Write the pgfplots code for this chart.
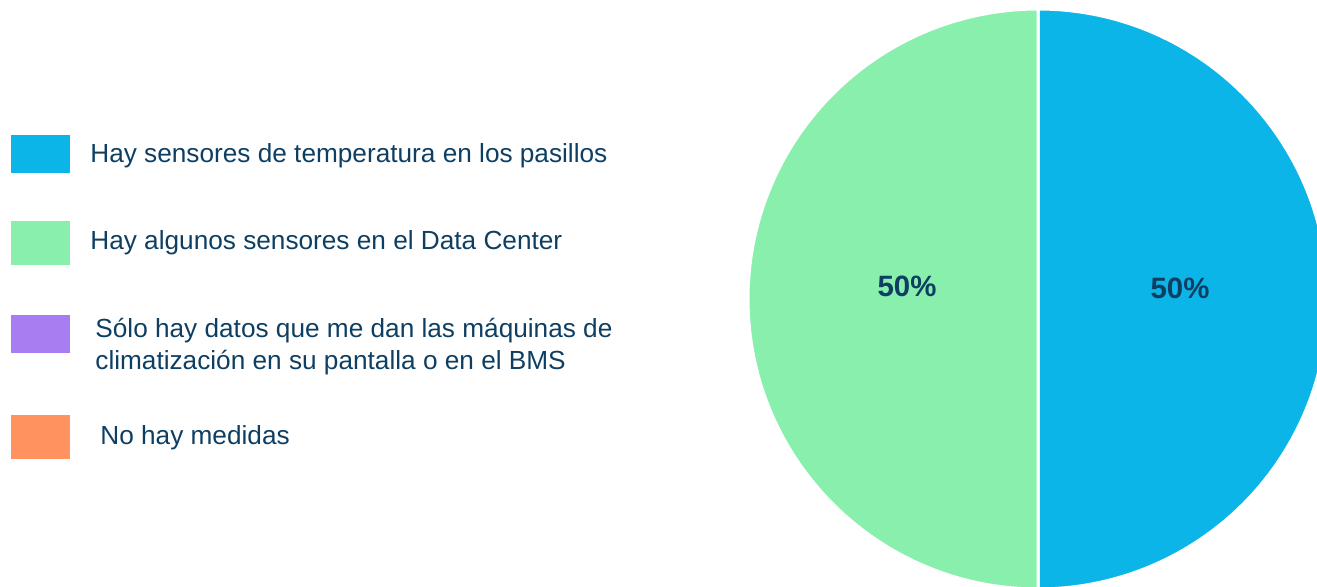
\documentclass[border=0pt]{standalone}
\usepackage{pgfplots}
\pgfplotsset{compat=1.18}
\usepackage{pgfplotstable}
\usepackage{fontspec}
\setmainfont{Liberation Sans}
\definecolor{cBlue}{HTML}{0BB5E7}
\definecolor{cGreen}{HTML}{88EFAC}
\definecolor{cPurple}{HTML}{A97DF2}
\definecolor{cOrange}{HTML}{FF925F}
\definecolor{cText}{HTML}{0E3F63}

\pgfplotstableread{
value
50
50
0
0
}\piedata

\begin{document}
\begin{tikzpicture}
\begin{axis}[scale only axis, width=658.5pt, height=293.5pt,
  xmin=0, xmax=1317, ymin=0, ymax=587, y dir=reverse, hide axis, clip=true]
\pgfplotstablegetelem{0}{value}\of\piedata \let\va\pgfplotsretval
\pgfplotstablegetelem{1}{value}\of\piedata \let\vb\pgfplotsretval
\pgfmathsetmacro{\aA}{90-3.6*\va}
\pgfmathsetmacro{\aB}{\aA-3.6*\vb}
\fill[cBlue, draw=white, line width=1.5pt] (axis cs:1038,299) -- ++(90:145pt) arc[start angle=90, end angle=\aA, radius=145pt] -- cycle;
\fill[cGreen, draw=white, line width=1.5pt] (axis cs:1038,299) -- ++(\aA:145pt) arc[start angle=\aA, end angle=\aB, radius=145pt] -- cycle;
\node[font=\fontsize{14.7}{16}\selectfont\bfseries, text=cText] at (axis cs:1180,288) {\va\%};
\node[font=\fontsize{14.7}{16}\selectfont\bfseries, text=cText] at (axis cs:907,286) {\vb\%};
% legend
\fill[cBlue] (axis cs:11,135) rectangle (axis cs:70,173);
\fill[cGreen] (axis cs:11,221) rectangle (axis cs:70,265);
\fill[cPurple] (axis cs:11,315) rectangle (axis cs:70,353);
\fill[cOrange] (axis cs:11,415) rectangle (axis cs:70,459);
\begin{scope}[every node/.style={anchor=west, inner sep=0pt, text=cText, font=\fontsize{13.1}{16}\selectfont}]
\node at (axis cs:90,156) {Hay sensores de temperatura en los pasillos};
\node at (axis cs:90,243) {Hay algunos sensores en el Data Center};
\node[align=left] at (axis cs:95,347) {Sólo hay datos que me dan las máquinas de\\climatización en su pantalla o en el BMS};
\node at (axis cs:100,438) {No hay medidas};
\end{scope}
\end{axis}
\pgfresetboundingbox
\path (0,0) rectangle (658.5pt,293.5pt);
\end{tikzpicture}
\end{document}
